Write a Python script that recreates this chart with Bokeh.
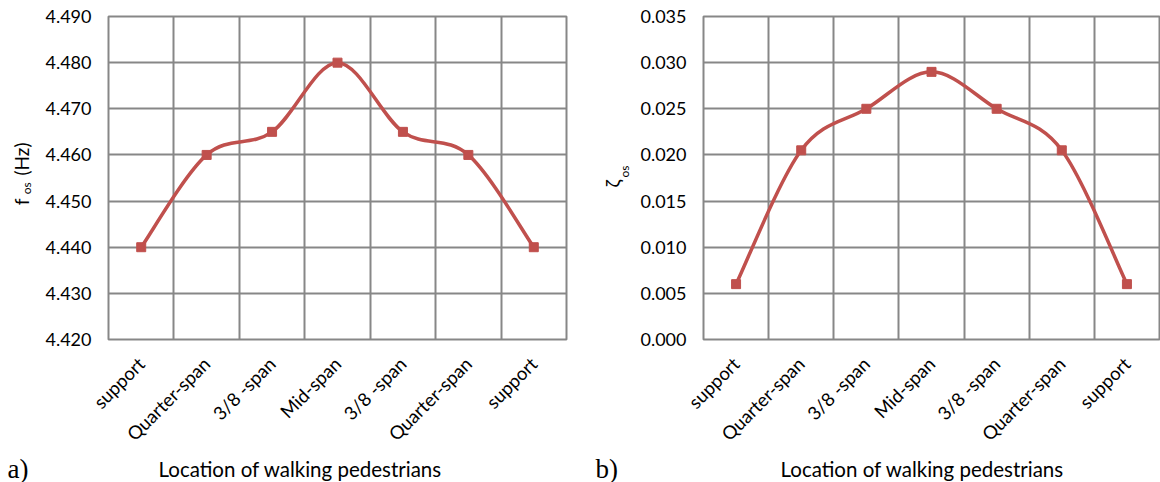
import numpy as np
from bokeh.plotting import figure
from bokeh.layouts import row, column
from bokeh.models import FixedTicker, NumeralTickFormatter, Range1d, ColumnDataSource
from bokeh.core.properties import value
from bokeh.embed import file_html
from bokeh.resources import INLINE

categories = ["support", "Quarter-span", "3/8 -span", "Mid-span", "3/8 -span", "Quarter-span", "support"]
freq = [4.440, 4.460, 4.465, 4.480, 4.465, 4.460, 4.440]
damping = [0.006, 0.0205, 0.025, 0.029, 0.025, 0.0205, 0.006]
freq_ticks = [4.42, 4.43, 4.44, 4.45, 4.46, 4.47, 4.48, 4.49]
damp_ticks = [0.0, 0.005, 0.010, 0.015, 0.020, 0.025, 0.030, 0.035]
x_title = "Location of walking pedestrians"

LINE = "#C0504D"
GRID = "#878787"
FONT = "Lato"
TOP_H = 455          # height of the row holding the two panels
BOT_H = 482 - TOP_H  # strip with the tags and x titles
FRAME_TOP = 16
FRAME_BOTTOM = 343   # canvas y of the plot frames' bottom edge


def spline_source(xs, ys):
    xs = np.asarray(xs, float)
    ys = np.asarray(ys, float)
    n = len(xs)
    x0, y0, x1, y1, cx0, cy0, cx1, cy1 = ([] for _ in range(8))
    for i in range(n - 1):
        pm = max(i - 1, 0)
        pp = min(i + 2, n - 1)
        x0.append(xs[i]); y0.append(ys[i])
        x1.append(xs[i + 1]); y1.append(ys[i + 1])
        cx0.append(xs[i] + (xs[i + 1] - xs[pm]) / 6)
        cy0.append(ys[i] + (ys[i + 1] - ys[pm]) / 6)
        cx1.append(xs[i + 1] - (xs[pp] - xs[i]) / 6)
        cy1.append(ys[i + 1] - (ys[pp] - ys[i]) / 6)
    return ColumnDataSource(dict(x0=x0, y0=y0, x1=x1, y1=y1, cx0=cx0, cy0=cy0, cx1=cx1, cy1=cy1))


def panel(values, yticks, width, left, right):
    p = figure(width=width, height=TOP_H, output_backend="svg", toolbar_location=None,
               x_range=Range1d(-0.5, len(categories) - 0.5),
               y_range=Range1d(yticks[0], yticks[-1]),
               min_border_left=left, min_border_right=right,
               min_border_top=FRAME_TOP, min_border_bottom=TOP_H - FRAME_BOTTOM)
    p.background_fill_color = "white"
    p.border_fill_color = "white"
    p.outline_line_color = GRID
    p.outline_line_width = 2
    xs = list(range(len(categories)))
    p.xaxis.ticker = FixedTicker(ticks=xs)
    p.xaxis.major_label_overrides = {i: c for i, c in enumerate(categories)}
    p.xaxis.major_label_orientation = np.pi / 4
    p.yaxis.ticker = FixedTicker(ticks=yticks)
    p.yaxis.formatter = NumeralTickFormatter(format="0.000")
    for ax in (p.xaxis, p.yaxis):
        ax.axis_line_color = None
        ax.major_tick_line_color = None
        ax.minor_tick_line_color = None
        ax.major_label_text_font = FONT
        ax.major_label_text_color = "#000000"
    p.yaxis.major_label_text_font_size = "18px"
    p.xaxis.major_label_text_font_size = "18.5px"
    p.xaxis.major_label_standoff = 15
    p.yaxis.major_label_standoff = 11
    p.xgrid.ticker = FixedTicker(ticks=[i + 0.5 for i in range(len(categories) - 1)])
    p.ygrid.ticker = FixedTicker(ticks=yticks)
    for g in (p.xgrid, p.ygrid):
        g.grid_line_color = GRID
        g.grid_line_width = 2

    src = spline_source(xs, values)
    p.bezier(x0="x0", y0="y0", x1="x1", y1="y1", cx0="cx0", cy0="cy0", cx1="cx1", cy1="cy1",
             source=src, line_color=LINE, line_width=3.5)
    p.scatter(xs, values, marker="square", size=9, fill_color=LINE, line_color=LINE)
    return p


def ystrip(width):
    # frame matches the panels' frame; data y equals TOP_H minus the canvas y
    s = figure(width=width, height=TOP_H, output_backend="svg", toolbar_location=None,
               x_range=Range1d(0, width), y_range=Range1d(TOP_H - FRAME_BOTTOM, TOP_H - FRAME_TOP),
               x_axis_type=None, y_axis_type=None,
               min_border_left=0, min_border_right=0,
               min_border_top=FRAME_TOP, min_border_bottom=TOP_H - FRAME_BOTTOM)
    s.outline_line_color = None
    s.background_fill_color = "white"
    s.border_fill_color = "white"
    return s


def txt(s, x, y, text, size, font=FONT, angle=0.0):
    s.text(x=[x], y=[y], text=[text], angle=angle, text_font=value(font),
           text_font_size=value(size), text_align="left", text_baseline="alphabetic",
           text_color="#000000")


# y-label strip for panel a (canvas x 0..40)
yl1 = ystrip(40)
txt(yl1, 21, TOP_H - 207, "f", "19px", angle=np.pi / 2)
txt(yl1, 26, TOP_H - 196, "os", "12px", angle=np.pi / 2)
txt(yl1, 21, TOP_H - 177, "(Hz)", "19px", angle=np.pi / 2)

p1 = panel(freq, freq_ticks, 540, 68, 14)

# y-label strip for panel b (canvas x 580..635)
yl2 = ystrip(55)
txt(yl2, 32, TOP_H - 189, "\u03b6", "19px", angle=np.pi / 2)
txt(yl2, 44, TOP_H - 179, "os", "12px", angle=np.pi / 2)

p2 = panel(damping, damp_ticks, 525, 68, 1)

# bottom strip with panel tags and x titles (canvas y 455..482)
bot = figure(width=1160, height=BOT_H, output_backend="svg", toolbar_location=None,
             x_range=Range1d(0, 1160), y_range=Range1d(0, BOT_H),
             x_axis_type=None, y_axis_type=None, min_border=0)
bot.outline_line_color = None
bot.background_fill_color = "white"
bot.border_fill_color = "white"
base = 14
txt(bot, 7, base, "a)", "27px", font="Liberation Serif")
txt(bot, 158, base, x_title, "20.5px")
txt(bot, 595, base, "b)", "27px", font="Liberation Serif")
txt(bot, 780, base, x_title, "20.5px")

page = column(row(yl1, p1, yl2, p2), bot)

open("out.html", "w").write(file_html(page, INLINE))
